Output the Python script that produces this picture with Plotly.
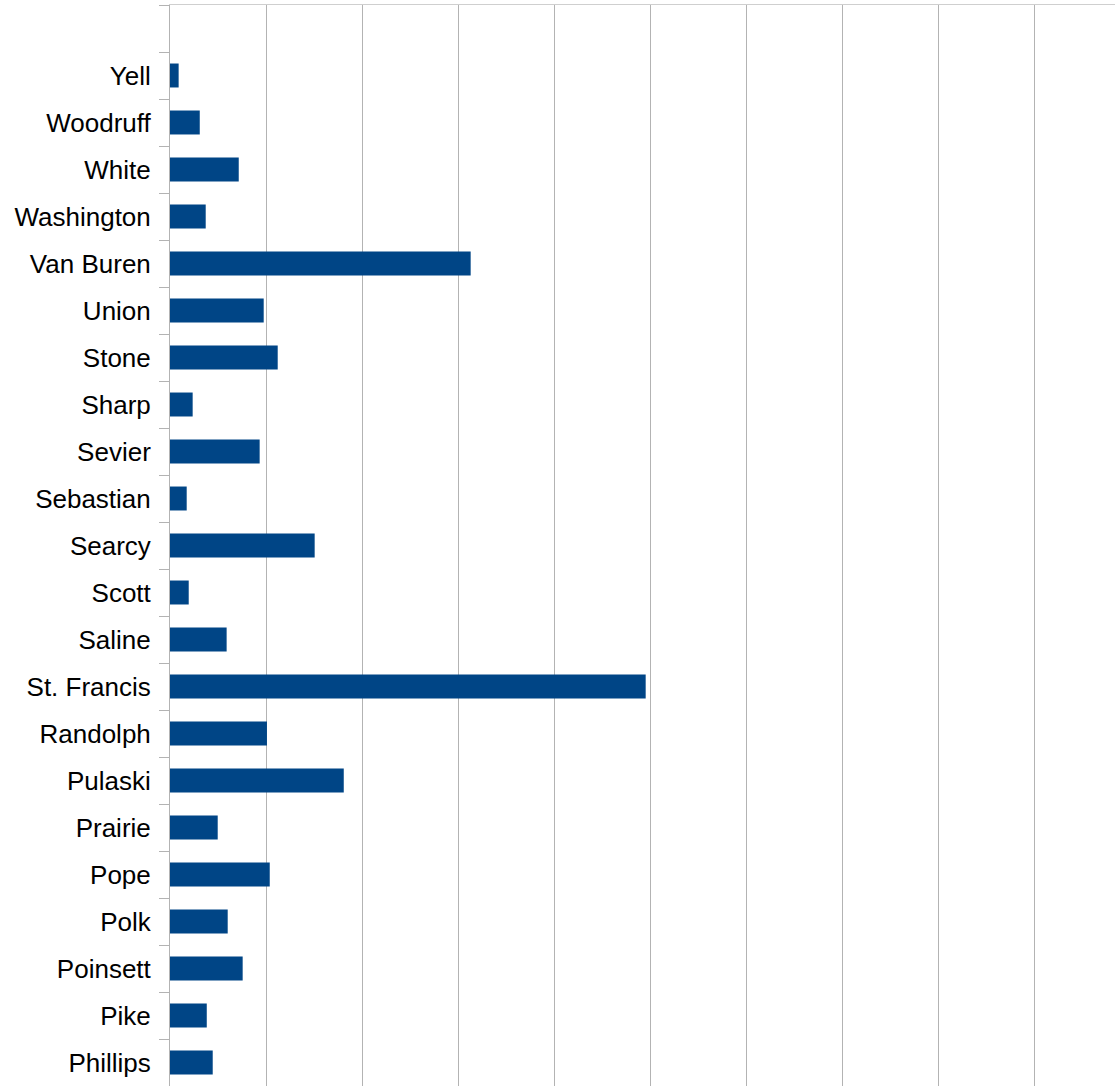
import plotly.graph_objects as go

counties = ["Phillips", "Pike", "Poinsett", "Polk", "Pope", "Prairie", "Pulaski",
            "Randolph", "St. Francis", "Saline", "Scott", "Searcy", "Sebastian",
            "Sevier", "Sharp", "Stone", "Union", "Van Buren", "Washington",
            "White", "Woodruff", "Yell"]
values = [0.445, 0.383, 0.757, 0.601, 1.039, 0.497, 1.81,
          1.01, 4.955, 0.59, 0.195, 1.507, 0.174,
          0.934, 0.236, 1.122, 0.976, 3.132, 0.372,
          0.716, 0.31, 0.09]
blank_top = [" "]

fig = go.Figure(go.Bar(
    x=values, y=counties, orientation="h",
    marker=dict(color="#004586", line=dict(width=0)),
    hoverinfo="x+y",
))

fig.update_layout(
    width=1115, height=1086,
    margin=dict(l=170, r=0, t=5, b=0, pad=0),
    paper_bgcolor="white", plot_bgcolor="white",
    bargap=0.49, showlegend=False,
    font=dict(family="Liberation Sans, Arial, sans-serif", color="black"),
)
fig.update_xaxes(
    range=[0, 945 / 96], dtick=1, tick0=0,
    showgrid=True, gridcolor="#b3b3b3", gridwidth=1,
    showticklabels=False, ticks="", zeroline=False,
    side="top", showline=True, linecolor="#cfcfcf", linewidth=1,
)
fig.update_yaxes(
    type="category", categoryorder="array", categoryarray=counties + blank_top,
    range=[-0.5, len(counties) + 0.5],
    tickson="boundaries", ticks="outside", ticklen=10, tickcolor="#b3b3b3", tickwidth=1,
    ticklabelstandoff=13,
    showline=True, linecolor="#b3b3b3", linewidth=1,
    showgrid=False, zeroline=False,
    tickfont=dict(size=26, color="black", family="Liberation Sans, Arial, sans-serif"),
)

fig.write_html("out.html", config={"displayModeBar": False},
               post_script="document.body.style.margin='0px';")
